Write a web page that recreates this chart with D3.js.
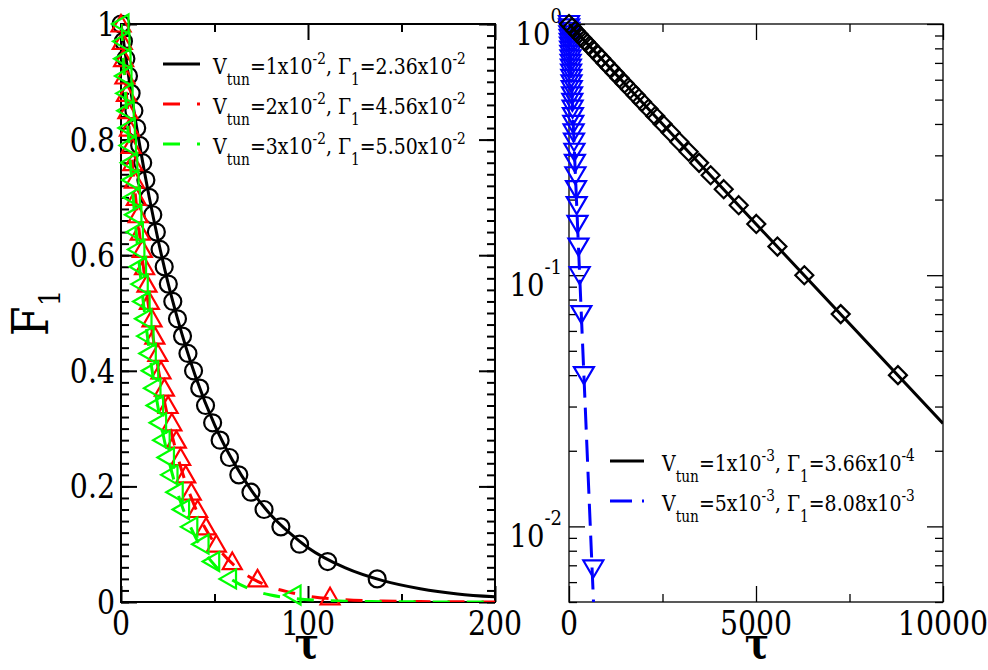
<!DOCTYPE html>
<html>
<head>
<meta charset="utf-8">
<script src="https://cdn.jsdelivr.net/npm/d3@7"></script>
<style>
  body { margin: 0; background: #fff; }
</style>
</head>
<body>
<svg id="chart"></svg>
<script>
// fidelity levels at which the simulated points were recorded (shared by all sets)
const fLevels = [1.00, 0.97, 0.94, 0.91, 0.88, 0.85, 0.82, 0.79, 0.76, 0.73, 0.70, 0.67,
  0.64, 0.61, 0.58, 0.55, 0.52, 0.49, 0.46, 0.43, 0.40, 0.37, 0.34, 0.31, 0.28, 0.25,
  0.22, 0.19, 0.16, 0.13, 0.10, 0.07, 0.04];

// left panel, times of the points
const tauBlackL = [0, 1.3, 2.6, 4.0, 5.4, 6.9, 8.4, 10.0, 11.6, 13.3, 15.1, 17.0, 18.9, 20.9,
  23.1, 25.3, 27.7, 30.2, 32.9, 35.8, 38.8, 42.1, 45.2, 49.0, 53.0, 58.0, 63.0, 69.5, 76.5,
  85.5, 95.5, 110.5, 137.0];
const tauRed = [0, 0.7, 1.4, 2.1, 2.9, 3.7, 4.5, 5.4, 6.3, 7.2, 8.2, 9.2, 10.3, 11.4, 12.6,
  13.9, 15.2, 16.6, 18.1, 19.7, 21.4, 23.2, 25.2, 27.2, 29.6, 31.9, 34.6, 37.6, 41.0, 45.5,
  51.0, 59.5, 73.0];
const tauGreen = [0, 0.5, 1.1, 1.6, 2.2, 2.8, 3.4, 4.0, 4.7, 5.4, 6.1, 6.9, 7.7, 8.5, 9.4,
  10.3, 11.3, 12.3, 13.4, 14.6, 15.9, 17.1, 18.5, 20.1, 22.0, 24.3, 26.2, 29.0, 32.4, 36.8,
  42.8, 48.5, 57.5];
// one extra late point each
const redTail = [[111.8, 0.009]];
const greenTail = [[92.0, 0.012]];

// left panel fits, F
const fitTauL = [0, 5, 10, 15, 20, 25, 30, 40, 50, 60, 70, 80, 90, 100, 120, 140, 160, 180, 200];
const fitBlackL = [1, 0.889, 0.790, 0.702, 0.624, 0.554, 0.493, 0.389, 0.307, 0.243, 0.192,
  0.151, 0.120, 0.094, 0.059, 0.037, 0.023, 0.014, 0.009];
const fitRed = [1, 0.796, 0.634, 0.505, 0.402, 0.320, 0.255, 0.161, 0.102, 0.065, 0.041,
  0.026, 0.017, 0.010, 0.004, 0.0017, 0.0007, 0.0003, 0.0001];
const fitGreen = [1, 0.760, 0.577, 0.438, 0.333, 0.253, 0.192, 0.111, 0.064, 0.037, 0.021,
  0.012, 0.007, 0.004, 0.0014, 0.0005, 0.0002, 0.0001, 0];

// right panel, times of the points
const tauBlackR = [0, 83, 169, 258, 349, 444, 542, 644, 750, 860, 975, 1094, 1219, 1350,
  1488, 1633, 1787, 1949, 2122, 2306, 2503, 2717, 2947, 3200, 3478, 3787, 4137, 4538, 5008,
  5573, 6292, 7265, 8795];
const tauBlue = [0, 3.8, 7.7, 11.7, 15.8, 20.1, 24.6, 29.2, 34.0, 39.0, 44.2, 49.6, 55.2,
  61.2, 67.4, 74.0, 80.9, 88.3, 96.1, 104.5, 113.4, 123.1, 133.6, 145.0, 157.6, 171.6, 187.4,
  205.6, 226.9, 252.5, 285.1, 329.2, 398.5];
const blueTail = [[650, 0.0068]];

// right panel fits
const fitTauBlackR = [0, 5000, 10000];
const fitBlackR = [1, 0.160, 0.0257];
const fitTauBlue = [0, 200, 400, 600, 700];
const fitBlue = [1, 0.199, 0.0395, 0.0078, 0.0035];

// ticks
const xTicksL = [0, 100, 200];
const xMinorL = [50, 150];
const yTicksL = [0, 0.2, 0.4, 0.6, 0.8, 1];
const yTickLabelsL = ["0", "0.2", "0.4", "0.6", "0.8", "1"];
const xTicksR = [0, 5000, 10000];
const xMinorR = [2500, 7500];
const yTicksR = [1, 0.1, 0.01];
const yTickExpR = ["0", "-1", "-2"];

// legends
const legendL = [
  {color: "#000", dash: null, parts: [["V"], ["tun", "sub"], ["=1x10"], ["-2", "sup"], [", Γ"], ["1", "sub"], ["=2.36x10"], ["-2", "sup"]]},
  {color: "#ff0000", dash: "17,17", parts: [["V"], ["tun", "sub"], ["=2x10"], ["-2", "sup"], [", Γ"], ["1", "sub"], ["=4.56x10"], ["-2", "sup"]]},
  {color: "#00ff00", dash: "17,17", parts: [["V"], ["tun", "sub"], ["=3x10"], ["-2", "sup"], [", Γ"], ["1", "sub"], ["=5.50x10"], ["-2", "sup"]]}
];
const legendR = [
  {color: "#000", dash: null, parts: [["V"], ["tun", "sub"], ["=1x10"], ["-3", "sup"], [", Γ"], ["1", "sub"], ["=3.66x10"], ["-4", "sup"]]},
  {color: "#0000ff", dash: "22,10", parts: [["V"], ["tun", "sub"], ["=5x10"], ["-3", "sup"], [", Γ"], ["1", "sub"], ["=8.08x10"], ["-3", "sup"]]}
];

const W = 988, H = 670;
const FONT = "DejaVu Serif";
const SX = 0.86;   // horizontal squeeze, the serif face here runs wider than the original
const svg = d3.select("#chart").attr("width", W).attr("height", H)
  .attr("font-family", FONT);
svg.append("rect").attr("width", W).attr("height", H).attr("fill", "#fff");

const L = {x0: 121, x1: 495, y0: 24, y1: 602};
const R = {x0: 569, x1: 943, y0: 24, y1: 602};

const xL = d3.scaleLinear().domain([0, 200]).range([L.x0, L.x1]);
const yL = d3.scaleLinear().domain([0, 1]).range([L.y1, L.y0]);
const xR = d3.scaleLinear().domain([0, 10000]).range([R.x0, R.x1]);
const yR = d3.scaleLog().domain([0.005, 1]).range([R.y1, R.y0]);

const defs = svg.append("defs");
[["clipL", L], ["clipR", R]].forEach(([id, p]) => {
  defs.append("clipPath").attr("id", id).append("rect")
    .attr("x", p.x0).attr("y", p.y0).attr("width", p.x1 - p.x0).attr("height", p.y1 - p.y0);
});

const shapes = {
  up: "M0,-9L9.5,7.5L-9.5,7.5Z",
  left: "M-9,0L7.5,-9.5L7.5,9.5Z",
  down: "M0,9L10,-8L-10,-8Z",
  diamond: "M0,-9L9,0L0,9L-9,0Z"
};

// text placed at (x, y) and squeezed horizontally
function label(x, y, anchor, size, rot) {
  return svg.append("g")
    .attr("transform", `translate(${x},${y})` + (rot ? ` rotate(${rot})` : "") + ` scale(${SX},1)`)
    .append("text").attr("text-anchor", anchor).attr("font-size", size);
}

function richText(t, parts, size, small, subDy, supDy) {
  let shift = 0;
  parts.forEach(([s, k]) => {
    const target = k === "sub" ? subDy : k === "sup" ? supDy : 0;
    t.append("tspan").attr("dy", target - shift).attr("font-size", k ? small : size).text(s);
    shift = target;
  });
}

// ticks on all four sides, pointing inward
function frameTicks(p, x, y, xMaj, xMin, yMaj, yMin, width) {
  const specs = [
    [d3.axisBottom(x), xMaj, 16, `translate(0,${p.y1})`],
    [d3.axisBottom(x), xMin, 8, `translate(0,${p.y1})`],
    [d3.axisTop(x), xMaj, 16, `translate(0,${p.y0})`],
    [d3.axisTop(x), xMin, 8, `translate(0,${p.y0})`],
    [d3.axisLeft(y), yMaj, 16, `translate(${p.x0},0)`],
    [d3.axisLeft(y), yMin, 8, `translate(${p.x0},0)`],
    [d3.axisRight(y), yMaj, 16, `translate(${p.x1},0)`],
    [d3.axisRight(y), yMin, 8, `translate(${p.x1},0)`]
  ];
  specs.forEach(([ax, vals, len, tr]) => {
    const g = svg.append("g").attr("transform", tr)
      .call(ax.tickValues(vals).tickSize(-len).tickFormat(""));
    g.select(".domain").remove();
    g.selectAll(".tick line").attr("stroke", "#000").attr("stroke-width", width);
  });
  svg.append("rect").attr("x", p.x0).attr("y", p.y0)
    .attr("width", p.x1 - p.x0).attr("height", p.y1 - p.y0)
    .attr("fill", "none").attr("stroke", "#000").attr("stroke-width", width);
}

function drawLine(x, y, xs, ys, color, dash, clip) {
  svg.append("path")
    .datum(xs.map((d, i) => [d, ys[i]]))
    .attr("clip-path", `url(#${clip})`)
    .attr("fill", "none").attr("stroke", color).attr("stroke-width", 3)
    .attr("stroke-dasharray", dash)
    .attr("d", d3.line().x(d => x(d[0])).y(d => y(d[1])).curve(d3.curveMonotoneX));
}

function drawPoints(x, y, pts, color, shape) {
  const g = svg.append("g");
  const sel = g.selectAll("g").data(pts).enter().append("g")
    .attr("transform", d => `translate(${x(d[0])},${y(d[1])})`);
  if (shape === "circle") {
    sel.append("circle").attr("r", 8.5);
  } else {
    sel.append("path").attr("d", shapes[shape]);
  }
  sel.selectAll("*").attr("fill", "none").attr("stroke", color).attr("stroke-width", 2.2);
}

function drawLegend(items, lx0, lx1, tx, y0) {
  items.forEach((it, i) => {
    const y = y0 + i * 40;
    svg.append("line").attr("x1", lx0).attr("x2", lx1).attr("y1", y).attr("y2", y)
      .attr("stroke", it.color).attr("stroke-width", 3).attr("stroke-dasharray", it.dash);
    richText(label(tx, y + 10, "start", 22), it.parts, 22, 16, 11, -10);
  });
}

const pairs = (xs, ys) => xs.map((d, i) => [d, ys[i]]);

// ---------- left panel ----------
frameTicks(L, xL, yL, xTicksL, xMinorL, yTicksL, d3.range(0, 1.001, 0.02), 2);

xTicksL.forEach(v => label(xL(v), 635, "middle", 33).text(v));
yTicksL.forEach((v, i) => label(L.x0 - 6, yL(v) + 12, "end", 33).text(yTickLabelsL[i]));

drawPoints(xL, yL, pairs(tauBlackL, fLevels), "#000", "circle");
drawLine(xL, yL, fitTauL, fitBlackL, "#000", null, "clipL");
drawPoints(xL, yL, pairs(tauRed, fLevels).concat(redTail), "#ff0000", "up");
drawLine(xL, yL, fitTauL, fitRed, "#ff0000", "17,17", "clipL");
drawPoints(xL, yL, pairs(tauGreen, fLevels).concat(greenTail), "#00ff00", "left");
drawLine(xL, yL, fitTauL, fitGreen, "#00ff00", "17,17", "clipL");

drawLegend(legendL, 163, 200, 213, 64);

label(307, 658, "middle", 42).attr("font-weight", "bold").text("τ");

richText(label(48, 313, "middle", 50, -90), [["F"], ["1", "sub"]], 50, 30, 12, 0);

// ---------- right panel ----------
const logMinor = [];
[0.001, 0.01, 0.1].forEach(dec => {
  for (let k = 2; k <= 9; k++) {
    const v = k * dec;
    if (v >= 0.005 && v <= 1) logMinor.push(v);
  }
});
frameTicks(R, xR, yR, xTicksR, xMinorR, yTicksR, logMinor, 1.3);

xTicksR.forEach(v => label(xR(v), 635, "middle", 33).text(v));
yTicksR.forEach((v, i) => {
  richText(label(562, yR(v) + 21, "end", 32), [["10"], [yTickExpR[i], "sup"]], 32, 21, 0, -22);
});

drawPoints(xR, yR, pairs(tauBlue, fLevels).concat(blueTail), "#0000ff", "down");
drawLine(xR, yR, fitTauBlue, fitBlue, "#0000ff", "22,10", "clipR");
drawPoints(xR, yR, pairs(tauBlackR, fLevels), "#000", "diamond");
drawLine(xR, yR, fitTauBlackR, fitBlackR, "#000", null, "clipR");

drawLegend(legendR, 610, 644, 662, 461);

label(757, 658, "middle", 42).attr("font-weight", "bold").text("τ");
</script>
</body>
</html>
